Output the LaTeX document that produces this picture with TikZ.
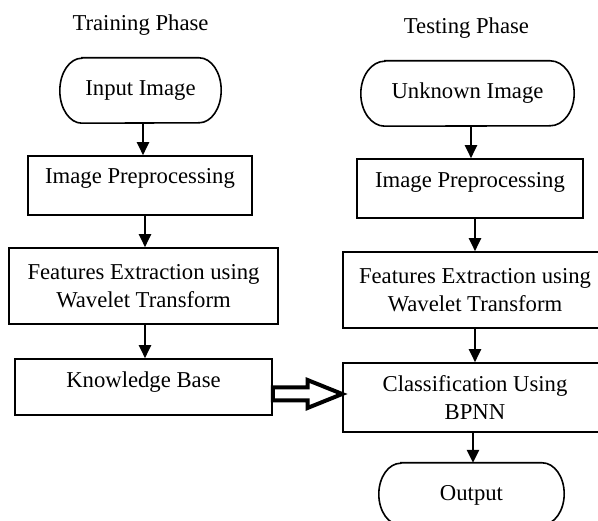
\documentclass[tikz,border=0pt]{standalone}
\usepackage{fontspec}
\setmainfont{Liberation Serif}
\usetikzlibrary{arrows.meta}

% outline of a terminal node with elliptical ends: #1 node name, #2 end radius, #3 half height
\newcommand\stadiumoutline[3]{%
  \draw[line width=1.6pt]
    ([xshift=#2]#1.north west) -- ([xshift=-#2]#1.north east)
    arc[start angle=90, end angle=-90, x radius=#2, y radius=#3]
    -- ([xshift=#2]#1.south west)
    arc[start angle=270, end angle=90, x radius=#2, y radius=#3] -- cycle;}

\begin{document}
\begin{tikzpicture}[x=1pt,y=-1pt,
  font=\fontsize{22.7}{27.5}\selectfont,
  box/.style={draw, line width=1.6pt, inner sep=0pt, align=center},
  term/.style={inner sep=0pt, align=center},
  flow/.style={line width=2.4pt, -{Triangle[length=13pt,width=12pt]}},
  hollow/.style={line width=4pt, line join=miter},
  head/.style={anchor=base, inner sep=0pt}]
\useasboundingbox (0,0) rectangle (598,521);
\clip (0,0) rectangle (598,521);

% column titles
\node[head] (tTrain) at (140.5,30.5) {Training Phase};
\node[head] (tTest)  at (466.5,33.3) {Testing Phase};

% training column
\node[term, minimum width=161pt, text height=38pt, text depth=27pt] (inL) at (140.5,90.5) {Input Image};
\stadiumoutline{inL}{22pt}{32.5pt}
\node[box, minimum width=224pt, text height=28pt, text depth=31pt] (ppL) at (140,185.5) {Image Preprocessing};
\node[box, minimum width=269pt, minimum height=76pt] (feL) at (143.5,286) {Features Extraction using\\Wavelet Transform};
\node[box, minimum width=257pt, text height=29pt, text depth=27pt] (kbL) at (143.5,387) {Knowledge Base};

% testing column
\node[term, minimum width=213pt, text height=38pt, text depth=27pt] (inR) at (467.5,93.5) {Unknown Image};
\stadiumoutline{inR}{24pt}{32.5pt}
\node[box, minimum width=226pt, text height=29pt, text depth=30pt] (ppR) at (470,188.5) {Image Preprocessing};
\node[box, minimum width=264pt, minimum height=76pt] (feR) at (475,290) {Features Extraction using\\Wavelet Transform};
\node[box, minimum width=264pt, minimum height=69pt] (clR) at (475,397.5) {Classification Using\\BPNN};
\node[term, minimum width=185pt, text height=38pt, text depth=24pt] (outR) at (471.5,494) {Output};
\stadiumoutline{outR}{22pt}{31pt}

% flow arrows
\draw[flow] (inL.south -| 143,0) -- (ppL.north -| 143,0);
\draw[flow] (ppL.south -| 145,0) -- (feL.north -| 145,0);
\draw[flow] (feL.south -| 145,0) -- (kbL.north -| 145,0);
\draw[flow] (inR.south -| 471,0) -- (ppR.north -| 471,0);
\draw[flow] (ppR.south -| 475,0) -- (feR.north -| 475,0);
\draw[flow] (feR.south -| 475,0) -- (clR.north -| 475,0);
\draw[flow] (clR.south -| 473,0) -- (outR.north -| 473,0);

% block arrow from the knowledge base into the classifier
\draw[hollow] (kbL.east |- 0,387.5) -- (307.5,387.5) -- (307.5,380)
  -- (clR.west |- 0,394) -- (307.5,408) -- (307.5,400.5)
  -- (kbL.east |- 0,400.5) -- cycle;
\end{tikzpicture}
\end{document}
